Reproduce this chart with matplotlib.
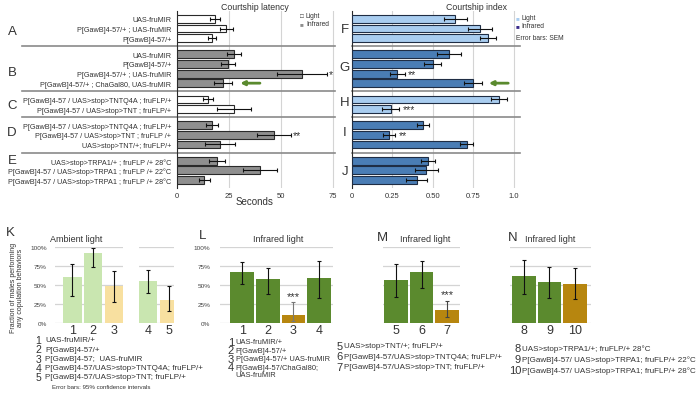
import matplotlib
matplotlib.use('Agg')
import matplotlib.pyplot as plt
import numpy as np

plt.rcParams['font.family'] = ['Liberation Sans', 'DejaVu Sans']
TXT = '#333333'

W, H = 699, 406
fig = plt.figure(figsize=(W / 100, H / 100), dpi=100)

# ---------------- data ----------------
genotypes = [
    "UAS-fruMIR", "P[GawB]4-57/+ ; UAS-fruMIR", "P[GawB]4-57/+",
    "UAS-fruMIR", "P[GawB]4-57/+", "P[GawB]4-57/+ ; UAS-fruMIR",
    "P[GawB]4-57/+ ; ChaGal80, UAS-fruMIR",
    "P[GawB]4-57 / UAS>stop>TNTQ4A ; fruFLP/+", "P[GawB]4-57 / UAS>stop>TNT ; fruFLP/+",
    "P[GawB]4-57 / UAS>stop>TNTQ4A ; fruFLP/+", "P[GawB]4-57 / UAS>stop>TNT ; fruFLP /+",
    "UAS>stop>TNT/+; fruFLP/+",
    "UAS>stop>TRPA1/+ ; fruFLP /+ 28°C", "P[GawB]4-57 / UAS>stop>TRPA1 ; fruFLP /+ 22°C",
    "P[GawB]4-57 / UAS>stop>TRPA1 ; fruFLP /+ 28°C",
]
group_sizes = [3, 4, 2, 3, 3]
group_conditions = ["Light", "Infrared", "Light", "Infrared", "Infrared"]
letters_left = ["A", "B", "C", "D", "E"]
letters_right = ["F", "G", "H", "I", "J"]

latency = [18.3, 23.6, 16.8, 27.4, 24.5, 60.0, 22.1, 14.9, 27.4, 16.7, 46.6, 20.7, 19.1, 39.9, 13.1]
latency_sem = [2.2, 3.1, 2.1, 3.4, 3.4, 12.0, 4.3, 2.6, 8.4, 2.9, 8.2, 7.0, 3.8, 8.0, 2.7]
latency_sig = {5: "*", 10: "**"}

cindex = [0.64, 0.79, 0.84, 0.60, 0.50, 0.28, 0.75, 0.91, 0.24, 0.44, 0.23, 0.71, 0.47, 0.46, 0.40]
cindex_sem = [0.072, 0.075, 0.05, 0.073, 0.052, 0.045, 0.057, 0.048, 0.052, 0.036, 0.037, 0.04, 0.045, 0.07, 0.065]
cindex_sig = {5: "**", 8: "***", 10: "**"}
arrow_row = 6

latency_ticks = [0, 25, 50, 75]
index_ticks = [0, 0.25, 0.50, 0.75, 1.0]
index_ticklabels = ["0", "0.25", "0.50", "0.75", "1.0"]

# bottom panels (percent, 95% CI)
K1_labels = ["1", "2", "3"]
K1_vals = [60, 92, 48.5]
K1_lo = [36, 73.5, 27]
K1_hi = [77, 99, 69]
K1_kind = ["ctrl", "ctrl", "exp"]
K2_labels = ["4", "5"]
K2_vals = [55, 30]
K2_lo = [39, 16]
K2_hi = [70, 49]
K2_kind = ["ctrl", "exp"]

L_labels = ["1", "2", "3", "4"]
L_vals = [67, 58, 11, 59]
L_lo = [51, 38, 3, 33]
L_hi = [80, 72.6, 28, 81]
L_kind = ["ctrl", "ctrl", "exp", "ctrl"]

M_labels = ["5", "6", "7"]
M_vals = [57, 67, 17]
M_lo = [34, 46, 7.5]
M_hi = [77, 81, 29.5]
M_kind = ["ctrl", "ctrl", "exp"]

N_labels = ["8", "9", "10"]
N_vals = [62.5, 54, 51.5]
N_lo = [38, 33, 31]
N_hi = [83, 73.5, 72]
N_kind = ["ctrl", "ctrl", "exp"]

pct_ticks = [0, 25, 50, 75, 100]
pct_labels = ["0%", "25%", "50%", "75%", "100%"]

K_legend = ["UAS-fruMIR/+", "P[GawB]4-57/+", "P[GawB]4-57;  UAS-fruMIR",
            "P[GawB]4-57/UAS>stop>TNTQ4A; fruFLP/+", "P[GawB]4-57/UAS>stop>TNT; fruFLP/+"]
L_legend = ["UAS-fruMIR/+", "P[GawB]4-57/+", "P[GawB]4-57/+ UAS-fruMIR",
            "P[GawB]4-57/ChaGal80;\nUAS-fruMIR"]
M_legend = ["UAS>stop>TNT/+; fruFLP/+", "P[GawB]4-57/UAS>stop>TNTQ4A; fruFLP/+",
            "P[GawB]4-57/UAS>stop>TNT; fruFLP/+"]
N_legend = ["UAS>stop>TRPA1/+; fruFLP/+ 28°C", "P[GawB]4-57/ UAS>stop>TRPA1; fruFLP/+ 22°C",
            "P[GawB]4-57/ UAS>stop>TRPA1; fruFLP/+ 28°C"]

# ---------------- helpers ----------------
def px_axes(x0, y0, x1, y1):
    return fig.add_axes([x0 / W, 1 - y1 / H, (x1 - x0) / W, (y1 - y0) / H])

def ftext(x, y, s, **kw):
    kw.setdefault('color', TXT)
    return fig.text(x / W, 1 - y / H, s, **kw)

# row positions with gaps between groups
GAP = 0.7
positions, row_cond = [], []
y = 0.0
for gi, n in enumerate(group_sizes):
    for j in range(n):
        positions.append(y)
        row_cond.append(group_conditions[gi])
        y += 1
    y += GAP
positions = np.array(positions)
seps = []
idx = 0
for gi, n in enumerate(group_sizes[:-1]):
    idx += n
    seps.append((positions[idx - 1] + positions[idx]) / 2)

YTOP, YBOT = -0.8, positions[-1] + 0.8
AX_Y0, AX_Y1 = 12.3, 188.6

# ---------------- courtship latency ----------------
axl = px_axes(177, AX_Y0, 335, AX_Y1)
lat_colors = ['white' if c == 'Light' else '#8f8f8f' for c in row_cond]
axl.barh(positions, latency, height=0.82, color=lat_colors, edgecolor='#2a2a2a', linewidth=0.8,
         xerr=latency_sem, error_kw=dict(ecolor='#111111', elinewidth=0.8, capsize=1.6, capthick=0.8),
         zorder=3)
axl.set_xlim(0, 76)
axl.set_ylim(YBOT, YTOP)
axl.set_yticks(positions)
axl.set_yticklabels(genotypes, fontsize=5.2, color=TXT)
axl.set_xticks(latency_ticks)
axl.set_xticklabels([str(t) for t in latency_ticks], fontsize=5.5, color=TXT)
axl.tick_params(length=0, pad=3)
axl.tick_params(axis='y', pad=4)
for s in ['top', 'right', 'bottom']:
    axl.spines[s].set_visible(False)
axl.spines['left'].set_color('#2a2a2a')
axl.spines['left'].set_linewidth(0.8)
axl.xaxis.grid(True, color='#d4d4d4', lw=0.8)
axl.set_axisbelow(True)
for s in seps:
    axl.axhline(s, xmin=-(177 - 22) / (335 - 177), xmax=1, color='#8a8a8a', lw=1.2, clip_on=False)
for i, mark in latency_sig.items():
    axl.text(latency[i] + latency_sem[i] + 0.8, positions[i], mark, fontsize=7.5, va='center',
             ha='left', color=TXT)
ftext(255, 7, "Courtship latency", fontsize=6.3, ha='center', va='center')
ftext(255, 202, "Seconds", fontsize=7, ha='center', va='center')
ftext(300, 17, "□", fontsize=4.5, ha='left', va='center')
ftext(306, 17, "Light", fontsize=4.8, ha='left', va='center')
ftext(300, 25, "■", fontsize=4.5, ha='left', va='center', color='#8f8f8f')
ftext(306, 25, "Infrared", fontsize=4.8, ha='left', va='center')

# ---------------- courtship index ----------------
axr = px_axes(352, AX_Y0, 520, AX_Y1)
idx_colors = ['#a9cdf0' if c == 'Light' else '#4a7db5' for c in row_cond]
axr.barh(positions, cindex, height=0.82, color=idx_colors, edgecolor='#1f2d44', linewidth=0.8,
         xerr=cindex_sem, error_kw=dict(ecolor='#111111', elinewidth=0.8, capsize=1.6, capthick=0.8),
         zorder=3)
axr.set_xlim(0, 1.04)
axr.set_ylim(YBOT, YTOP)
axr.set_yticks([])
axr.set_xticks(index_ticks)
axr.set_xticklabels(index_ticklabels, fontsize=5.5, color=TXT)
axr.tick_params(length=0, pad=3)
for s in ['top', 'right', 'bottom']:
    axr.spines[s].set_visible(False)
axr.spines['left'].set_color('#2a2a2a')
axr.spines['left'].set_linewidth(0.8)
axr.xaxis.grid(True, color='#d4d4d4', lw=0.8)
axr.set_axisbelow(True)
for s in seps:
    axr.axhline(s, xmin=0, xmax=1, color='#8a8a8a', lw=1.2, clip_on=False)
for i, mark in cindex_sig.items():
    axr.text(cindex[i] + cindex_sem[i] + 0.02, positions[i], mark, fontsize=7.5, va='center',
             ha='left', color=TXT)
ftext(477, 7, "Courtship index", fontsize=6.3, ha='center', va='center')
ftext(516, 19, "■", fontsize=4.5, ha='left', va='center', color='#a9cdf0')
ftext(521, 19, "Light", fontsize=4.8, ha='left', va='center')
ftext(516, 27, "■", fontsize=4.5, ha='left', va='center', color='#3b2c8c')
ftext(521, 27, "Infrared", fontsize=4.8, ha='left', va='center')
ftext(516, 38, "Error bars: SEM", fontsize=4.8, ha='left', va='center')

# green arrows pointing at the ChaGal80 row
for ax, val, err, gap, ln in [(axl, latency, latency_sem, 4.0, 9.5), (axr, cindex, cindex_sem, 0.04, 0.12)]:
    xh = val[arrow_row] + err[arrow_row] + gap
    ax.annotate('', xy=(xh, positions[arrow_row]), xytext=(xh + ln, positions[arrow_row]),
                arrowprops=dict(arrowstyle='-|>', color='#5a8a2e', lw=2.0, mutation_scale=6,
                                shrinkA=0, shrinkB=0), annotation_clip=False)

# panel letters
for L, yy in zip(letters_left, [32, 73, 106, 133, 161]):
    ftext(12, yy, L, fontsize=9.5, ha='center', va='center')
for L, yy in zip(letters_right, [30, 68, 103, 133, 172]):
    ftext(345, yy, L, fontsize=9.5, ha='center', va='center')

# ---------------- bottom panels ----------------
COL = {('light', 'ctrl'): '#c9e6b0', ('light', 'exp'): '#f8e0a0',
       ('dark', 'ctrl'): '#5b8a2e', ('dark', 'exp'): '#b7860f'}

def bar_panel(x0, x1, xlim, labels, vals, lo, hi, kind, shade, width, show_y, ylab_pad=6,
              ecols=None, sig=None):
    ax = px_axes(x0, 248, x1, 324)
    xs = np.arange(len(vals))
    cols = [COL[(shade, k)] for k in kind]
    ax.bar(xs, vals, width=width, color=cols, zorder=3)
    vals_a, lo_a, hi_a = np.array(vals), np.array(lo), np.array(hi)
    for i in range(len(vals)):
        ec = '#111111' if ecols is None else ecols[i]
        ax.errorbar(xs[i], vals_a[i], yerr=[[vals_a[i] - lo_a[i]], [hi_a[i] - vals_a[i]]], fmt='none',
                    ecolor=ec, elinewidth=0.8, capsize=1.5, capthick=0.8, zorder=4)
    if sig:
        for i, s in sig.items():
            ax.text(xs[i], hi_a[i] + 1.5, s, ha='center', va='bottom', fontsize=8, color=TXT)
    ax.set_xlim(*xlim)
    ax.set_ylim(0, 100)
    ax.set_yticks(pct_ticks)
    if show_y:
        ax.set_yticklabels(pct_labels, fontsize=4.6, color='#444444')
    else:
        ax.set_yticklabels([])
    ax.set_xticks(xs)
    ax.set_xticklabels(labels, fontsize=9, color=TXT)
    ax.tick_params(length=0, pad=1)
    ax.tick_params(axis='y', pad=ylab_pad)
    for s in ax.spines.values():
        s.set_visible(False)
    ax.yaxis.grid(True, color='#d4d4d4', lw=0.9)
    ax.set_axisbelow(True)
    return ax

bar_panel(55, 123, (-0.84, 2.43), K1_labels, K1_vals, K1_lo, K1_hi, K1_kind, 'light', 0.87, True)
bar_panel(139, 174, (-0.43, 1.25), K2_labels, K2_vals, K2_lo, K2_hi, K2_kind, 'light', 0.87, False)
bar_panel(220, 333, (-0.86, 3.54), L_labels, L_vals, L_lo, L_hi, L_kind, 'dark', 0.93, True, ylab_pad=7,
          ecols=['#111111', '#111111', '#777777', '#111111'], sig={2: '***'})
bar_panel(383, 460, (-0.51, 2.51), M_labels, M_vals, M_lo, M_hi, M_kind, 'dark', 0.93, False,
          ecols=['#111111', '#111111', '#444444'], sig={2: '***'})
bar_panel(510, 591, (-0.55, 2.63), N_labels, N_vals, N_lo, N_hi, N_kind, 'dark', 0.93, False)

ftext(76, 240, "Ambient light", fontsize=6.5, ha='center', va='center')
for xx in [278, 425, 550]:
    ftext(xx, 240, "Infrared light", fontsize=6.5, ha='center', va='center')
for L, xx, yy in [("K", 10, 233), ("L", 203, 236), ("M", 382, 238), ("N", 513, 238)]:
    ftext(xx, yy, L, fontsize=9.5, ha='center', va='center')
ftext(17, 288, "Fraction of males performing\nany copulation behaviors", fontsize=5.0, rotation=90,
      ha='center', va='center', linespacing=1.05)

def legend_block(x_num_right, x_text, ys, labels, items, nsize=7.5, tsize=5.8, dy2=8):
    for yy, n, t in zip(ys, labels, items):
        ftext(x_num_right, yy, n, fontsize=nsize, ha='right', va='center')
        parts = t.split('\n')
        for k, p in enumerate(parts):
            ftext(x_text, yy + k * dy2, p, fontsize=tsize, ha='left', va='center')

legend_block(41, 45, [341, 350.5, 360, 369, 378], K1_labels + K2_labels, K_legend)
ftext(52, 388, "Error bars: 95% confidence intervals", fontsize=4.4, ha='left', va='center')
legend_block(234, 235.5, [343, 351.5, 360, 368.5], L_labels, L_legend, nsize=8, tsize=5.4, dy2=7)
legend_block(343, 344, [347, 357.5, 368], M_labels, M_legend, nsize=8)
legend_block(521, 522, [349, 360, 371], N_labels, N_legend, nsize=8)

fig.savefig('out.png', dpi=100)
